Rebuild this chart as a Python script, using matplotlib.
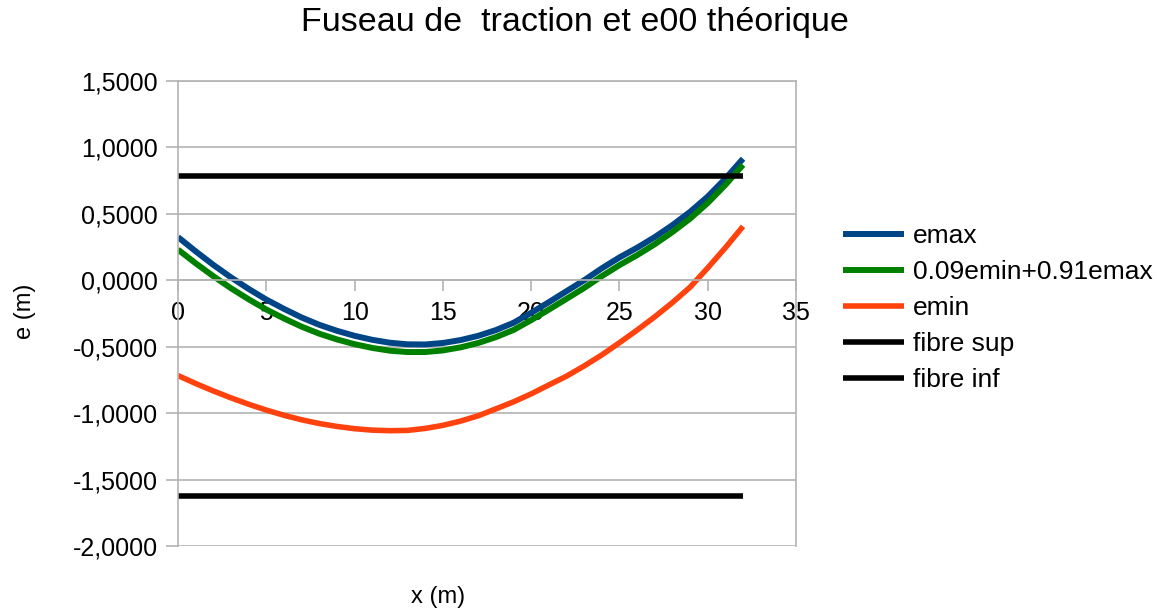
import matplotlib
matplotlib.use("Agg")
import matplotlib.pyplot as plt
from matplotlib.ticker import FuncFormatter, MultipleLocator

plt.rcParams["font.family"] = ["Liberation Sans", "DejaVu Sans"]

# abscissa along the beam (m), one section per metre
x = list(range(0, 33))

# eccentricity bounds (m)
emax = [0.325, 0.218, 0.116, 0.022, -0.065, -0.145, -0.215, -0.280, -0.335,
        -0.380, -0.418, -0.448, -0.470, -0.482, -0.483, -0.472, -0.450,
        -0.418, -0.375, -0.320, -0.245, -0.165, -0.082, 0.000, 0.090, 0.172,
        0.245, 0.325, 0.415, 0.515, 0.630, 0.765, 0.915]
e_mix = [0.231, 0.128, 0.031, -0.060, -0.143, -0.220, -0.287, -0.349, -0.402,
         -0.445, -0.481, -0.509, -0.530, -0.540, -0.540, -0.528, -0.505,
         -0.472, -0.428, -0.374, -0.300, -0.221, -0.140, -0.058, 0.031, 0.114,
         0.189, 0.271, 0.363, 0.464, 0.582, 0.718, 0.869]
emin = [-0.717, -0.777, -0.833, -0.885, -0.933, -0.977, -1.016, -1.050, -1.078,
        -1.100, -1.117, -1.128, -1.132, -1.130, -1.115, -1.092, -1.060,
        -1.020, -0.968, -0.915, -0.855, -0.788, -0.722, -0.645, -0.562,
        -0.470, -0.375, -0.275, -0.168, -0.052, 0.093, 0.245, 0.406]

# section fibres
x_fibre = [0, 32]
fibre_sup = [0.785, 0.785]
fibre_inf = [-1.62, -1.62]

W, H = 1157, 609
fig = plt.figure(figsize=(W / 100, H / 100), dpi=100)
ax = fig.add_axes([178 / W, 1 - 546 / H, 618 / W, 465 / H])

ax.plot(x, emax, color="#004586", lw=4.3, label="emax", solid_capstyle="butt")
ax.plot(x, e_mix, color="#008000", lw=4.3, label="0.09emin+0.91emax", solid_capstyle="butt")
ax.plot(x, emin, color="#ff420e", lw=4.0, label="emin", solid_capstyle="butt")
ax.plot(x_fibre, fibre_sup, color="black", lw=4.0, label="fibre sup", solid_capstyle="butt")
ax.plot(x_fibre, fibre_inf, color="black", lw=4.0, label="fibre inf", solid_capstyle="butt")

grey = "#b3b3b3"
ax.set_xlim(0, 35)
ax.set_ylim(-2, 1.5)
ax.xaxis.set_major_locator(MultipleLocator(5))
ax.yaxis.set_major_locator(MultipleLocator(0.5))
ax.yaxis.set_major_formatter(FuncFormatter(lambda v, _: f"{v:.4f}".replace(".", ",")))
ax.grid(axis="y", color=grey, lw=1.2)
ax.set_axisbelow(True)

ax.spines["bottom"].set_position(("data", 0))
for s in ax.spines.values():
    s.set_color(grey)
    s.set_linewidth(1.2)
ax.tick_params(axis="x", direction="out", length=8, width=1.2, color=grey,
               labelsize=18, pad=7)
ax.tick_params(axis="y", direction="out", length=8.5, width=1.2, color=grey,
               labelsize=18, pad=6)

fig.text(575 / W, 1 - 22 / H, "Fuseau de  traction et e00 théorique",
         ha="center", va="center", fontsize=24.5)
fig.text(438 / W, 1 - 597 / H, "x (m)", ha="center", va="center", fontsize=17)
fig.text(25 / W, 1 - 311 / H, "e (m)", ha="center", va="center", fontsize=17,
         rotation=90)

fig.legend(loc="center left", bbox_to_anchor=(843 / W, 1 - 308 / H),
           frameon=False, fontsize=19, borderpad=0, borderaxespad=0,
           handlelength=2.3, handletextpad=0.35, labelspacing=0.45)

fig.savefig("out.png", dpi=100)
